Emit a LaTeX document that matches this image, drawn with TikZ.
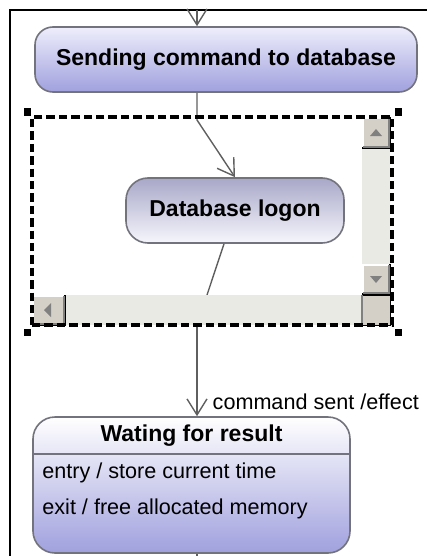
\documentclass[tikz,border=0pt]{standalone}
\usepackage{fontspec}
\setmainfont{Liberation Sans}
\usepackage{xcolor}
\usepackage{tikz}
\usetikzlibrary{arrows.meta,calc,positioning}

\definecolor{connline}{RGB}{95,95,95}
\definecolor{boxline}{RGB}{115,115,125}
\definecolor{lavlight}{RGB}{238,238,252}
\definecolor{lavdark}{RGB}{160,160,222}
\definecolor{logtop}{RGB}{168,168,200}
\definecolor{logbot}{RGB}{246,246,252}
\definecolor{btnface}{RGB}{212,208,200}
\definecolor{btnshadow}{RGB}{128,128,128}
\definecolor{track}{RGB}{234,234,229}

\begin{document}
\begin{tikzpicture}[x=0.5pt,y=-0.5pt,>={Straight Barb[length=8pt,width=10pt]},
    statebox/.style={draw=boxline,line width=0.8pt,inner sep=0pt},
    stname/.style={font=\fontsize{11.5}{13}\selectfont\bfseries,inner sep=0pt},
    sttext/.style={font=\fontsize{10.8}{13}\selectfont,inner sep=0pt,anchor=west},
    conn/.style={draw=connline,line width=0.7pt},
    scrollbtn/.style={fill=btnface},
    btnarrow/.style={fill=btnshadow}]
    \useasboundingbox (0,0) rectangle (427,556);
    \draw[line width=1pt] (10,556) -- (10,10) -- (427,10);

    \node[statebox,rounded corners=9pt,top color=lavlight,bottom color=lavdark,
          minimum width=191pt,minimum height=32.5pt] (send) at (226,59.5) {};
    \node[stname] (sendname) at (send.center) {Sending command to database};

    \node[statebox,rounded corners=11pt,top color=logtop,bottom color=logbot,
          minimum width=109pt,minimum height=32.5pt] (logon) at (235,210.5) {};
    \node[stname] (logonname) at (logon.center) {Database logon};

    \coordinate (in) at (197,10);
    \coordinate (bend) at (197,120);
    \coordinate (cut) at (207,295);
    \coordinate (out) at (197,556);

    \draw[conn,->] (in) -- (send.north -| in);
    \draw[conn,->] (send.south -| in) -- (bend) -- (logon.north);
    \draw[conn] ($(logon.south)+(-11,0)$) -- (cut);

    \fill[track] (362,117) rectangle (390,295);
    \fill[track] (32,295) rectangle (362,325);
    \draw[scrollbtn] (362,117) rectangle (390,148);
    \draw[white,line width=1pt] (363,147) -- (363,118) -- (389,118);
    \draw[btnshadow,line width=1pt] (363,147) -- (389,147) -- (389,118);
    \fill[btnarrow] (370,136) -- (382,136) -- (376,129) -- cycle;
    \draw[scrollbtn] (362,264) rectangle (390,294);
    \draw[white,line width=1pt] (363,293) -- (363,265) -- (389,265);
    \draw[btnshadow,line width=1pt] (363,293) -- (389,293) -- (389,265);
    \fill[btnarrow] (370,276) -- (382,276) -- (376,283) -- cycle;
    \draw[scrollbtn] (32,295) rectangle (65,325);
    \draw[white,line width=1pt] (33,324) -- (33,296) -- (64,296);
    \draw[btnshadow,line width=1pt] (33,324) -- (64,324) -- (64,296);
    \fill[btnarrow] (51,303) -- (51,317) -- (44,310) -- cycle;
    \draw[scrollbtn] (362,295) rectangle (390,325);
    \draw[btnshadow,line width=1pt] (362,295) -- (362,325);

    \node[draw,line width=1.6pt,dash pattern=on 4.2pt off 2pt,
          minimum width=180pt,minimum height=104pt,inner sep=0pt] (frame) at (212,221) {};
    \foreach \x/\y in {27/112,398/112,27/332,398/332}
        \fill (\x-3.5,\y-3.5) rectangle (\x+3.5,\y+3.5);

    \node[statebox,rounded corners=11pt,top color=white,bottom color=lavdark,
          minimum width=158.5pt,minimum height=68pt] (wait) at (191.5,485) {};
    \draw[boxline,line width=0.8pt] (wait.west |- 0,454) -- (wait.east |- 0,454);
    \node[stname] (waitname) at (191.5,436) {Wating for result};
    \node[sttext] (entry) at (42,473) {entry / store current time};
    \node[sttext] (exit) at (42,509) {exit / free allocated memory};

    \draw[conn,->] (frame.south -| in) -- (wait.north -| in)
        node[sttext,pos=0.84,xshift=7.5pt] (trig) {command sent /effect};
    \draw[conn] (wait.south -| in) -- (out);
\end{tikzpicture}
\end{document}
